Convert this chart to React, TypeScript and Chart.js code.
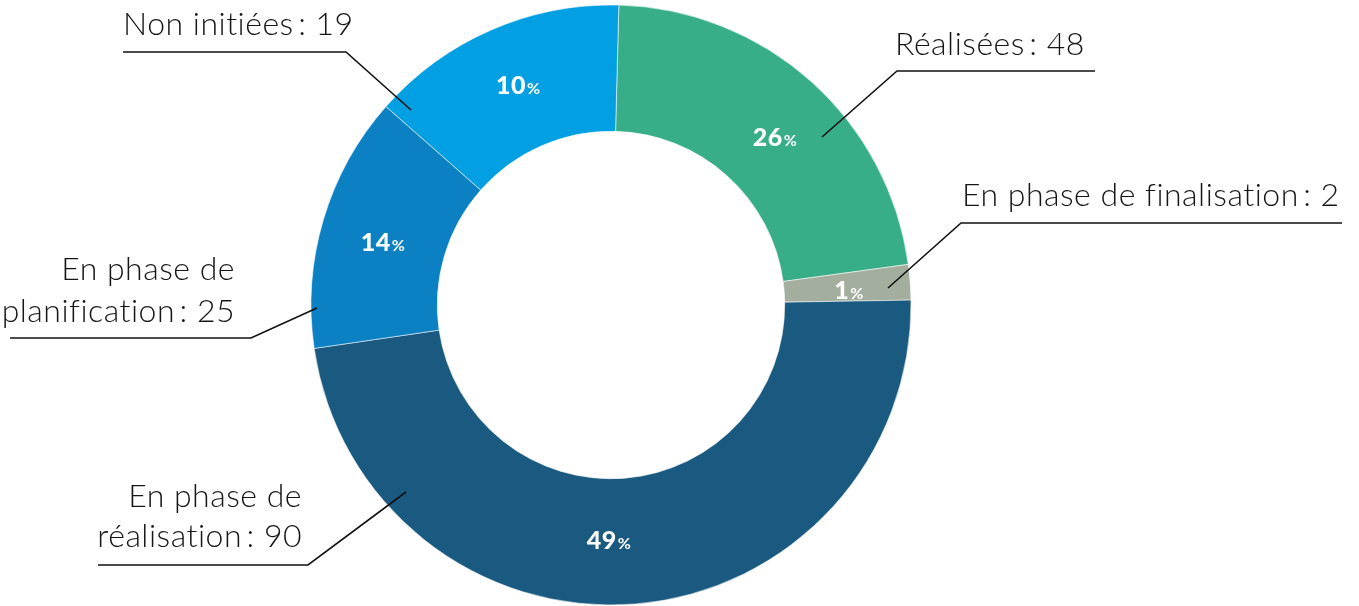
import { useEffect, useRef } from "react";
import { Chart, registerables } from "chart.js";

Chart.register(...registerables);

// ---- data ----
const categories = [
  "Réalisées",
  "En phase de finalisation",
  "En phase de réalisation",
  "En phase de planification",
  "Non initiées",
];
const counts = [48, 2, 90, 25, 19];
// arc sizes as drawn in the picture (share of the full circle, %)
const sliceShares = [22.4, 1.9, 47.9, 13.8, 13.9];
const colors = ["#37ae88", "#a4ae9f", "#1b5a80", "#0b80c3", "#02a0e2"];

const total = counts.reduce((a, b) => a + b, 0);
const percentLabels = counts.map((c) => Math.round((c / total) * 100));

// ---- label layout (annotation positions) ----
type LabelLayout = {
  lines: string[];
  start: [number, number];
  elbow: [number, number];
  end: [number, number];
  textX: number;
  align: CanvasTextAlign;
  baselines: number[];
  pctOffset: [number, number];
};

const lbl = (i: number) => `${categories[i]}\u2009: ${counts[i]}`;
const split2 = (i: number) => {
  const full = lbl(i);
  const first = "En phase de";
  return [first, full.slice(first.length + 1)];
};

const layouts: LabelLayout[] = [
  { lines: [lbl(0)], start: [822, 137], elbow: [897, 71], end: [1095, 71], textX: 895, align: "left", baselines: [55], pctOffset: [6, 8] },
  { lines: [lbl(1)], start: [888, 288], elbow: [961, 223], end: [1342, 223], textX: 962, align: "left", baselines: [206], pctOffset: [2, 3] },
  { lines: split2(2), start: [406, 492], elbow: [308, 565], end: [98, 565], textX: 302, align: "right", baselines: [507, 547], pctOffset: [-21, -1] },
  { lines: split2(3), start: [317, 308], elbow: [251, 338], end: [10, 338], textX: 235, align: "right", baselines: [280, 322], pctOffset: [-1, 4] },
  { lines: [lbl(4)], start: [411, 110], elbow: [346, 52], end: [123, 52], textX: 123, align: "left", baselines: [35], pctOffset: [2, -3] },
];

const labelPlugin = {
  id: "calloutLabels",
  afterDraw(chart: any) {
    const ctx: any = chart.ctx;
    const meta = chart.getDatasetMeta(0);
    ctx.save();
    // percentages inside slices
    meta.data.forEach((arc: any, i: number) => {
      const p = arc.getProps(["x", "y", "startAngle", "endAngle", "innerRadius", "outerRadius"], true);
      const mid = (p.startAngle + p.endAngle) / 2;
      const r = (p.innerRadius + p.outerRadius) / 2;
      const cx = p.x + Math.cos(mid) * r + layouts[i].pctOffset[0];
      const cy = p.y + Math.sin(mid) * r + layouts[i].pctOffset[1];
      const num = String(percentLabels[i]);
      ctx.fillStyle = "#ffffff";
      ctx.textBaseline = "alphabetic";
      ctx.textAlign = "left";
      ctx.letterSpacing = "0.5px";
      ctx.font = "900 25px Lato";
      const wn = ctx.measureText(num).width;
      ctx.font = "700 16px Lato";
      const wp = ctx.measureText("%").width;
      const x0 = cx - (wn + wp + 1) / 2;
      ctx.font = "900 25px Lato";
      ctx.fillText(num, x0, cy + 9);
      ctx.font = "700 16px Lato";
      ctx.fillText("%", x0 + wn + 1, cy + 9);
    });
    // callouts
    layouts.forEach((l) => {
      ctx.strokeStyle = "#111111";
      ctx.lineWidth = 1.6;
      ctx.beginPath();
      ctx.moveTo(l.start[0], l.start[1]);
      ctx.lineTo(l.elbow[0], l.elbow[1]);
      ctx.lineTo(l.end[0], l.end[1]);
      ctx.stroke();
      ctx.fillStyle = "#161616";
      ctx.font = "300 32px Lato";
      ctx.letterSpacing = "0.5px";
      ctx.textAlign = l.align;
      ctx.textBaseline = "alphabetic";
      l.lines.forEach((t, k) => ctx.fillText(t, l.textX, l.baselines[k]));
    });
    ctx.restore();
  },
};

export default function App() {
  const ref = useRef<HTMLCanvasElement | null>(null);
  useEffect(() => {
    if (!ref.current) return;
    const chart = new Chart(ref.current, {
      type: "doughnut",
      data: {
        labels: categories,
        datasets: [
          {
            data: sliceShares,
            backgroundColor: colors,
            borderColor: "rgba(255,255,255,0.55)",
            borderWidth: 1,
          },
        ],
      },
      options: {
        responsive: false,
        animation: false,
        rotation: 1.5,
        radius: 300,
        cutout: 174,
        layout: { padding: { left: 0, right: 137, top: 4, bottom: 0 } },
        plugins: {
          legend: { display: false },
          tooltip: { enabled: false },
        },
      } as any,
      plugins: [labelPlugin],
    });
    return () => chart.destroy();
  }, []);
  return (
    <div style={{ position: "fixed", left: 0, top: 0, width: 1359, height: 606, background: "#fff" }}>
      <canvas ref={ref} width={1359} height={606} />
    </div>
  );
}
